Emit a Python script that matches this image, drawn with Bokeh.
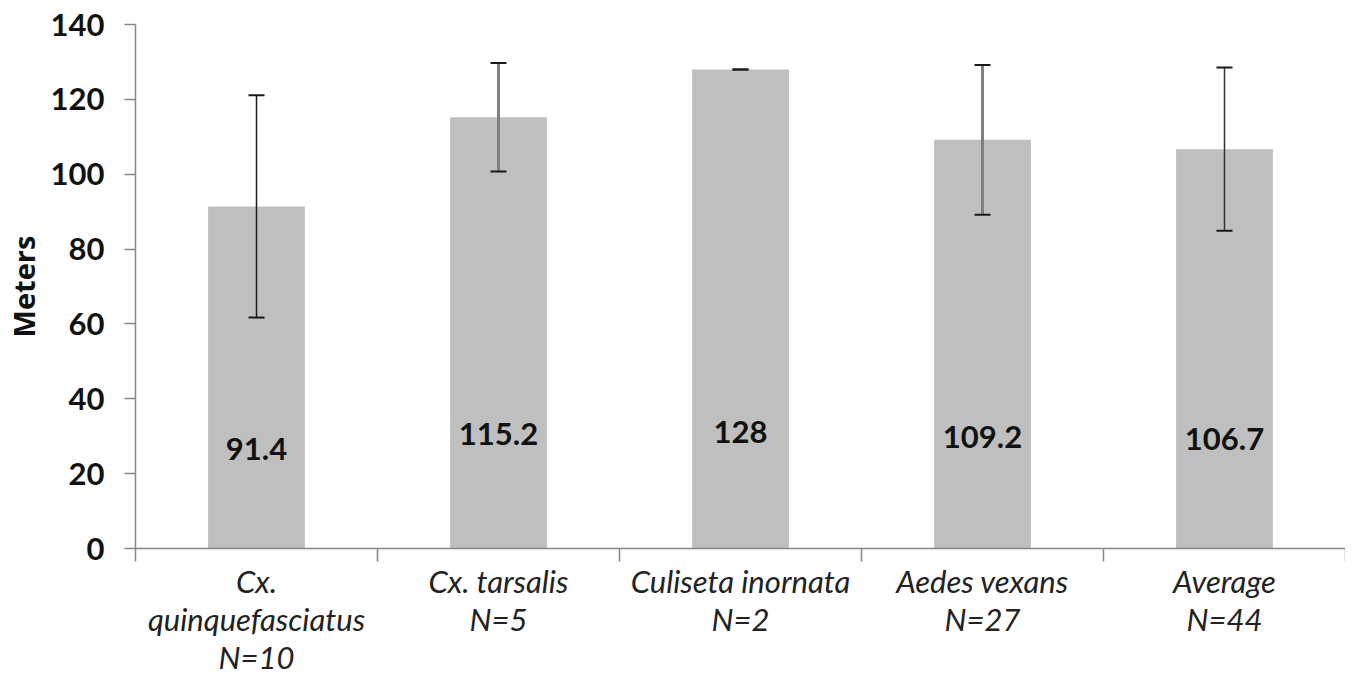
from bokeh.plotting import figure
from bokeh.models import Range1d, FixedTicker, Label, ColumnDataSource
from bokeh.embed import file_html
from bokeh.resources import INLINE

# ---- data ----
categories = ["Cx.\nquinquefasciatus\nN=10", "Cx. tarsalis\nN=5", "Culiseta inornata\nN=2",
              "Aedes vexans\nN=27", "Average\nN=44"]
means = [91.4, 115.2, 128.0, 109.2, 106.7]
errors = [29.7, 14.5, 0.0, 20.0, 21.8]
value_labels = ["91.4", "115.2", "128", "109.2", "106.7"]
label_heights = [26.5, 30.5, 31.0, 29.7, 29.2]
y_ticks = [0, 20, 40, 60, 80, 100, 120, 140]

stem_colors = ["#1a1a1a", "#7f7f7f", "#1a1a1a", "#7f7f7f", "#333333"]
stem_widths = [1.5, 3, 1.5, 3, 1.5]

n = len(categories)
xs = [i + 0.5 for i in range(n)]

p = figure(width=1345, height=678, output_backend="svg", toolbar_location=None, title=None,
           x_range=Range1d(0, n), y_range=Range1d(0, 140),
           min_border_left=133, min_border_right=0, min_border_top=24, min_border_bottom=126)
p.outline_line_color = None
p.xgrid.visible = False
p.ygrid.visible = False
p.background_fill_color = "white"
p.border_fill_color = "white"

src = ColumnDataSource(dict(x=xs, top=means,
                            lo=[m - e for m, e in zip(means, errors)],
                            hi=[m + e for m, e in zip(means, errors)],
                            c=stem_colors, w=stem_widths))

p.vbar(x="x", top="top", width=0.4, bottom=0, source=src,
       fill_color="#bfbfbf", line_color=None)
p.segment(x0="x", y0="lo", x1="x", y1="hi", source=src, line_color="c", line_width="w")
p.scatter(x="x", y="hi", source=src, marker="dash", size=16, line_color="#1a1a1a", line_width=2)
p.scatter(x="x", y="lo", source=src, marker="dash", size=16, line_color="#1a1a1a", line_width=2)

FONT = "Lato"
for x, h, t in zip(xs, label_heights, value_labels):
    p.add_layout(Label(x=x, y=h, text=t, text_align="center", text_baseline="middle",
                       text_font=FONT, text_font_size="31px", text_font_style="bold",
                       text_color="#111111"))

# y axis
yax = p.yaxis[0]
yax.ticker = FixedTicker(ticks=y_ticks)
yax.axis_line_color = "#868686"
yax.axis_line_width = 1.5
yax.major_tick_line_color = "#868686"
yax.major_tick_line_width = 1.5
yax.major_tick_out = 11
yax.major_tick_in = 0
yax.minor_tick_line_color = None
yax.major_label_standoff = 20
yax.major_label_text_font = FONT
yax.major_label_text_font_size = "31px"
yax.major_label_text_font_style = "bold"
yax.major_label_text_color = "#111111"
yax.axis_label = "Meters"
yax.axis_label_text_font = "Open Sans"
yax.axis_label_text_font_size = "29px"
yax.axis_label_text_font_style = "bold"
yax.axis_label_text_color = "#111111"
yax.axis_label_standoff = 5

# x axis
xax = p.xaxis[0]
xax.ticker = FixedTicker(ticks=xs, minor_ticks=list(range(n + 1)))
xax.major_label_overrides = {x: c for x, c in zip(xs, categories)}
xax.axis_line_color = "#868686"
xax.axis_line_width = 1.5
xax.minor_tick_line_color = "#868686"
xax.minor_tick_line_width = 1.5
xax.minor_tick_out = 13
xax.minor_tick_in = 0
xax.major_tick_line_color = None
xax.major_tick_out = 0
xax.major_tick_in = 0
xax.major_label_standoff = 0
xax.major_label_text_font = FONT
xax.major_label_text_font_size = "31px"
xax.major_label_text_font_style = "italic"
xax.major_label_text_color = "#222222"
xax.major_label_text_line_height = 1.0

open("out.html", "w").write(file_html(p, INLINE))
